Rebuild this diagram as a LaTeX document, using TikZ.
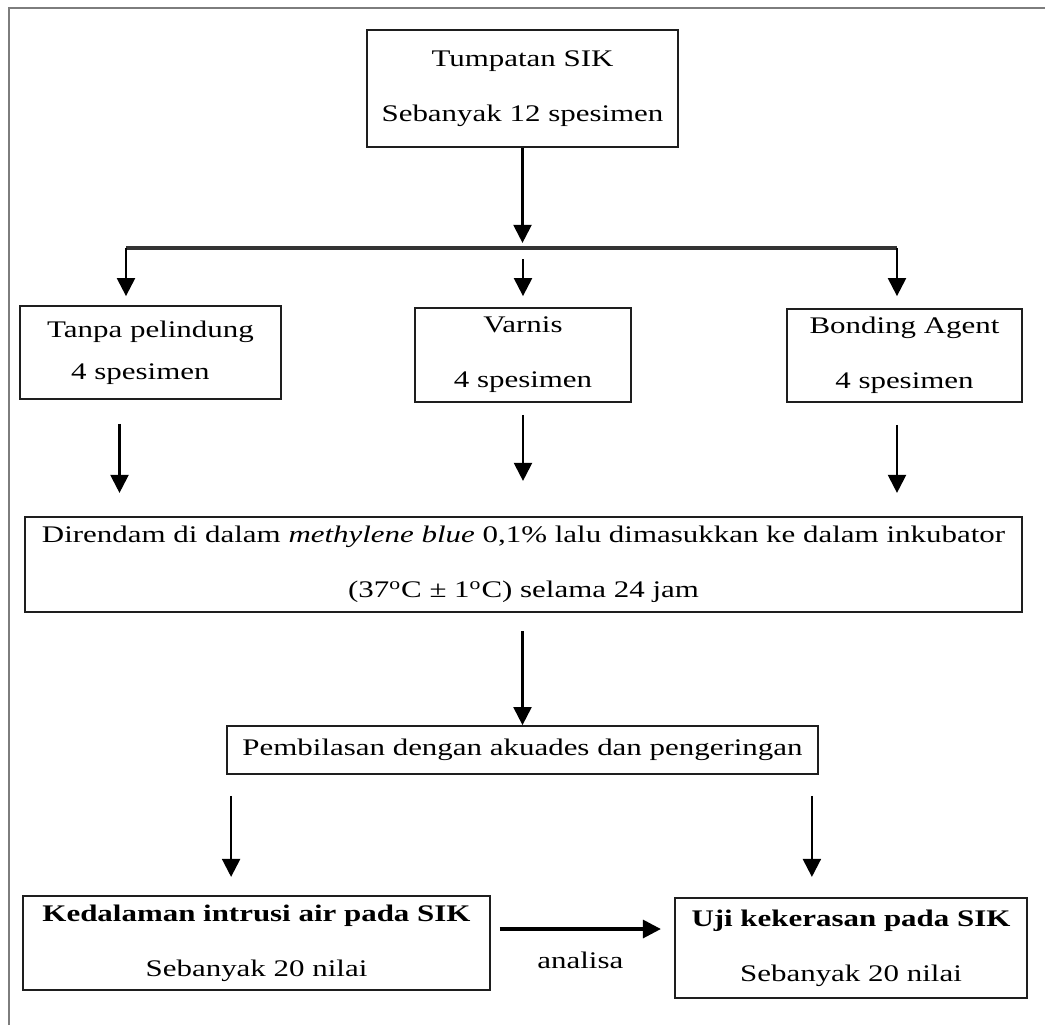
\documentclass[tikz,border=0pt]{standalone}
\usepackage{fontspec}
\setmainfont{Liberation Serif}[FakeStretch=1.3]
\definecolor{framegray}{RGB}{125,125,125}
\definecolor{boxline}{RGB}{30,30,30}
\colorlet{edge}{boxline}
\usetikzlibrary{calc, arrows.meta}

\begin{document}
\begin{tikzpicture}[
  x=0.5pt, y=-0.5pt,
  flowbox/.style={draw=edge, line width=0.9pt, align=center, inner sep=0pt,
    font=\fontsize{11.9}{27.5}\selectfont},
  arr/.style={-{Triangle[width=9pt,length=9pt]}, line width=1.1pt, draw=black},
  boldarr/.style={-{Triangle[width=9pt,length=9pt]}, line width=1.6pt, draw=black},
  busline/.style={line width=1.6pt, draw=black!80},
  frameline/.style={line width=1.3pt, draw=framegray},
]
  \useasboundingbox (0,0) rectangle (1045,1025);
  \draw[frameline] (9,1025) -- (9,8) -- (1045,8);

  \node[flowbox, minimum width=155.5pt, minimum height=58.5pt] (tumpatan) at (522.5,88.5) {Tumpatan SIK\\Sebanyak 12 spesimen};
  \node[flowbox, align=left, font=\fontsize{11.9}{21}\selectfont, minimum width=130.5pt, minimum height=46.5pt] (tanpa) at (150.5,352.5) {Tanpa pelindung\\\hspace*{12pt}4 spesimen};
  \node[flowbox, minimum width=108pt, minimum height=47pt] (varnis) at (523,355) {Varnis\\4 spesimen};
  \node[flowbox, minimum width=117.5pt, minimum height=46.5pt] (bonding) at (904.5,355.5) {Bonding Agent\\4 spesimen};
  \node[flowbox, minimum width=498.5pt, minimum height=47.5pt] (rendam) at (523.5,564.5) {Direndam di dalam \textit{methylene blue} 0,1\% lalu dimasukkan ke dalam inkubator\\(37\textsuperscript{o}C ± 1\textsuperscript{o}C) selama 24 jam};
  \node[flowbox, minimum width=295.5pt, minimum height=24pt] (bilas) at (522.5,750) {Pembilasan dengan akuades dan pengeringan};
  \node[flowbox, minimum width=233.5pt, minimum height=47pt] (intrusi) at (256.5,943) {\textbf{Kedalaman intrusi air pada SIK}\\Sebanyak 20 nilai};
  \node[flowbox, minimum width=176pt, minimum height=50pt] (keras) at (851,948) {\textbf{Uji kekerasan pada SIK}\\Sebanyak 20 nilai};

  \coordinate (busL) at (126,248);
  \coordinate (busR) at (897,248);
  \draw[arr] (tumpatan.south) -- ++(0,95);
  \draw[busline] (busL) -- (busR);
  \draw[arr] (busL) -- ($(busL |- tanpa.north)+(0,-9)$);
  \draw[arr] (busR) -- ($(busR |- bonding.north)+(0,-12)$);
  \draw[arr] ($(varnis.north)+(0,-48)$) -- ($(varnis.north)+(0,-11)$);

  \draw[arr] ($(tanpa.south)+(-31,24)$) -- ++(0,69);
  \draw[arr] ($(varnis.south)+(0,12)$) -- ++(0,66);
  \draw[arr] ($(bonding.south)+(-7.5,22)$) -- ++(0,68);

  \draw[arr] ($(bilas.north)+(0,-94)$) -- (bilas.north);
  \draw[arr] ($(bilas.south west)+(5,21)$) -- ++(0,81);
  \draw[arr] ($(bilas.south east)+(-7,21)$) -- ++(0,81);

  \draw[boldarr] ($(intrusi.east)+(9,-14)$) -- node[midway, yshift=-15.5pt, font=\fontsize{11.9}{14}\selectfont] (analisa) {analisa} ++(161,0);
\end{tikzpicture}
\end{document}
